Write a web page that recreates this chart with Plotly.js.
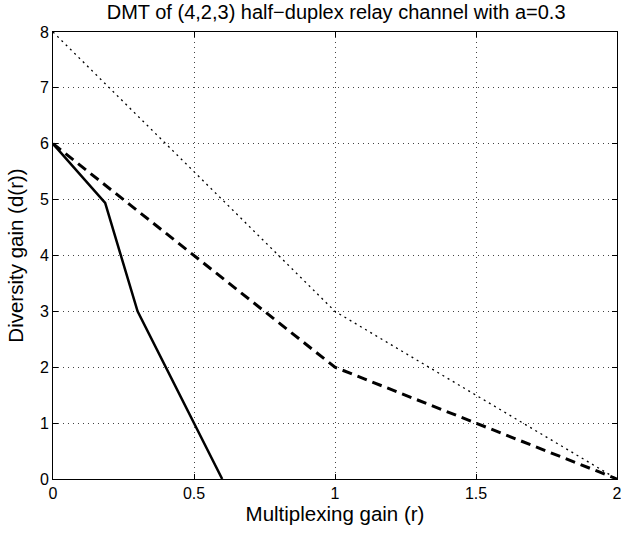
<!DOCTYPE html>
<html><head><meta charset="utf-8">
<script src="https://cdn.plot.ly/plotly-3.0.1.min.js"></script>
<style>html,body{margin:0;padding:0;background:#fff;}</style>
</head><body><div id="chart" style="width:621px;height:533px;"></div>
<script>
// Outer bound: MIMO DMT (dotted)
const rDotted = [0, 1, 2];
const dDotted = [8, 3, 0];
// Dashed curve
const rDashed = [0, 1, 2];
const dDashed = [6, 2, 0];
// Half-duplex relay DMT (solid)
const rSolid = [0, 0.185, 0.3, 0.6];
const dSolid = [6, 4.94, 3, 0];
const xTicks = [0, 0.5, 1, 1.5, 2];
const xTickLabels = ['0', '0.5', '1', '1.5', '2'];
const yTicks = [0, 1, 2, 3, 4, 5, 6, 7, 8];

const fam = 'Liberation Sans, Arial, Helvetica, sans-serif';
const traces = [
  {x: rDotted, y: dDotted, mode: 'lines', line: {color: '#000', width: 1.3, dash: '2px,4px'}, hoverinfo: 'skip'},
  {x: rDashed, y: dDashed, mode: 'lines', line: {color: '#000', width: 3, dash: '10px,6px'}, hoverinfo: 'skip'},
  {x: rSolid, y: dSolid, mode: 'lines', line: {color: '#000', width: 2.5}, hoverinfo: 'skip'}
];
const axisCommon = {
  showline: true, linecolor: '#000', linewidth: 1, mirror: 'ticks',
  ticks: 'inside', ticklen: 5, tickcolor: '#000', tickwidth: 1,
  showgrid: true, gridcolor: '#444', gridwidth: 1, griddash: '1px,4px',
  zeroline: false, tickfont: {family: fam, size: 16, color: '#000'},
  ticklabeloverflow: 'allow'
};
const layout = {
  width: 621, height: 533,
  margin: {l: 53, r: 4, t: 32, b: 54},
  paper_bgcolor: '#fff', plot_bgcolor: '#fff',
  showlegend: false,
  title: {text: 'DMT of (4,2,3) half\u2212duplex relay channel with a=0.3', font: {family: fam, size: 20, color: '#000'},
    x: 0.502, xanchor: 'center', xref: 'paper', y: 1 - 11.7 / 533, yref: 'container', yanchor: 'middle'},
  xaxis: Object.assign({}, axisCommon, {range: [0, 2], tickvals: xTicks, ticktext: xTickLabels, automargin: false,
    title: {text: 'Multiplexing gain (r)', font: {family: fam, size: 20.5, color: '#000'}, standoff: 1}}),
  yaxis: Object.assign({}, axisCommon, {range: [0, 8], tickvals: yTicks, automargin: false,
    title: {text: 'Diversity gain (d(r))', font: {family: fam, size: 20.5, color: '#000'}, standoff: 10}})
};
Plotly.newPlot('chart', traces, layout, {displayModeBar: false, staticPlot: true});
</script></body></html>
